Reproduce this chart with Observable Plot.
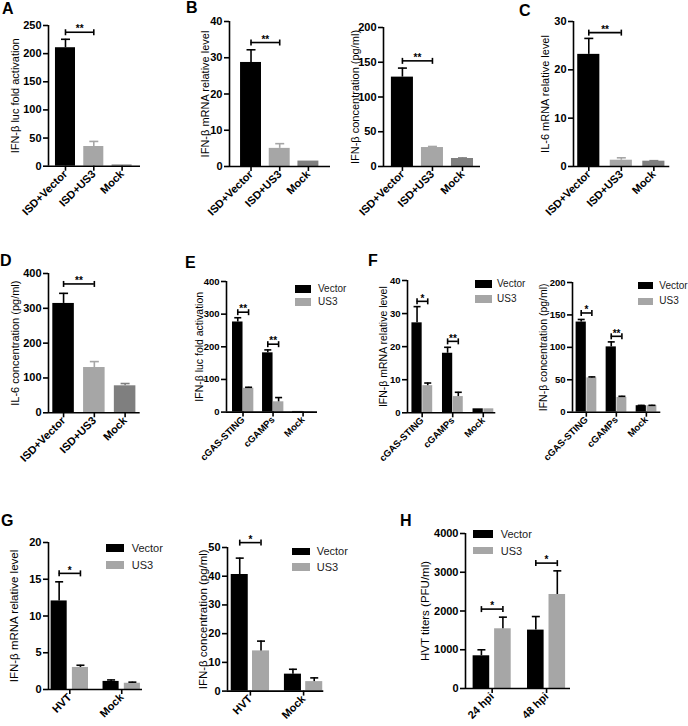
<!DOCTYPE html>
<html><head><meta charset="utf-8">
<script src="https://cdn.jsdelivr.net/npm/d3@7"></script>
<script src="https://cdn.jsdelivr.net/npm/@observablehq/plot@0.6"></script>
<style>
body{margin:0;background:#fff;font-family:"Liberation Sans",Arial,sans-serif;}
#fig{position:relative;width:688px;height:726px;overflow:hidden;background:#fff;}
.plbl{position:absolute;font-weight:bold;font-size:16px;line-height:16px;color:#000;}
.legrect{position:absolute;}
.legtxt{position:absolute;color:#222;white-space:nowrap;}
</style></head><body><div id="fig"></div>
<script>
// ---------- data ----------
const catsISD = ["ISD+Vector", "ISD+US3", "Mock"];
const catsCG = ["cGAS-STING", "cGAMPs", "Mock"];
const catsHVT = ["HVT", "Mock"];
const catsHpi = ["24 hpi", "48 hpi"];
const seriesNames = ["Vector", "US3"];

const aVal = [210.5, 35, 2.2];   const aSD = [15, 9, 0];
const bmVal = [28.7, 5.0, 1.5];  const bmSD = [3.5, 1.3, 0];
const bcVal = [128.6, 27.3, 11.5]; const bcSD = [13, 1.5, 0.8];
const cVal = [23.2, 1.3, 1.1];   const cSD = [3.3, 0.5, 0.1];
const dVal = [314, 130, 77.5];   const dSD = [29, 17, 6.5];

const eVec = [276, 181.5, 2];    const eVecSD = [13, 9, 0];
const eUS3 = [73, 31.5, 1];      const eUS3SD = [3, 13, 0];
const fmVec = [27.2, 18.0, 1.2]; const fmVecSD = [4.9, 1.8, 0];
const fmUS3 = [8.2, 4.9, 1.2];   const fmUS3SD = [0.8, 1.3, 0];
const fcVec = [139, 100.7, 10];  const fcVecSD = [4, 7.7, 0.5];
const fcUS3 = [52.9, 22.7, 10];  const fcUS3SD = [1.5, 1.8, 0.6];
const gmVec = [12.05, 1.1];      const gmVecSD = [2.6, 0.2];
const gmUS3 = [3.0, 0.85];       const gmUS3SD = [0.3, 0.15];
const gcVec = [40.6, 5.9];       const gcVecSD = [5.7, 1.7];
const gcUS3 = [14, 3.3];         const gcUS3SD = [3.4, 1.3];
const hVec = [844, 1507];        const hVecSD = [155, 350];
const hUS3 = [1541, 2426];       const hUS3SD = [300, 610];

const sigA = [{i: 0, y: 238, t: "**"}];
const sigBm = [{i: 0, y: 34.2, t: "**"}];
const sigBc = [{i: 0, y: 152, t: "**"}];
const sigC = [{i: 0, y: 27.7, t: "**"}];
const sigD = [{i: 0, y: 370, t: "**"}];
const sigE = [{i: 0, y: 306, t: "**"}, {i: 1, y: 208, t: "**"}];
const sigFm = [{i: 0, y: 33.7, t: "*"}, {i: 1, y: 21.6, t: "**"}];
const sigFc = [{i: 0, y: 153, t: "*"}, {i: 1, y: 117, t: "**"}];
const sigGm = [{i: 0, y: 15.8, t: "*"}];
const sigGc = [{i: 0, y: 51.7, t: "*"}];
const sigH = [{i: 0, y: 2049, t: "*"}, {i: 1, y: 3236, t: "*"}];

const ticks = (max, step) => d3.range(0, max + step / 2, step);

// ---------- styles ----------
const BLACK = "#000000", GREY = "#a6a6a6", DGREY = "#7f7f7f";
const FONT = "'Liberation Sans', Arial, sans-serif";
const fig = document.getElementById("fig");
const hline = w => ({draw(c) { c.moveTo(-w, 0); c.lineTo(w, 0); }});
const vline = h => ({draw(c) { c.moveTo(0, -h); c.lineTo(0, h); }});

function panel(cfg) {
  const ML = 60, MR = 12, MT = 20, MB = 75;
  const {box, cats, xDomain, yMax, yTicks, series, sig, ylabel, ylDx, fs} = cfg;
  const width = (box.x1 - box.x0) + ML + MR;
  const height = (box.y0 - box.yTop) + MT + MB;
  const rows = [];
  series.forEach(s => s.values.forEach((v, i) => {
    const col = s.colors ? s.colors[i] : s.color;
    rows.push({x1: i + s.off[0], x2: i + s.off[1], xc: i + (s.off[0] + s.off[1]) / 2,
      v, e: v + s.sd[i], fill: col, ec: s.errColor || col});
  }));
  const grouped = series.length > 1;
  const mid = s => (s.off[0] + s.off[1]) / 2;
  const brk = sig.map(d => grouped
    ? {a: d.i + mid(series[0]), b: d.i + mid(series[1]), y: d.y, t: d.t}
    : {a: d.i, b: d.i + 1, y: d.y, t: d.t});
  const ends = brk.flatMap(d => [{x: d.a, y: d.y}, {x: d.b, y: d.y}]);
  const errRows = rows.filter(r => r.e > r.v);
  const svg = Plot.plot({
    width, height, marginLeft: ML, marginRight: MR, marginTop: MT, marginBottom: MB,
    x: {type: "linear", domain: xDomain, axis: null},
    y: {domain: [0, yMax], axis: null},
    color: {type: "identity"},
    style: {background: "transparent", overflow: "visible", fontFamily: FONT, color: "#000"},
    marks: [
      Plot.rectY(rows, {x1: "x1", x2: "x2", y1: () => 0, y2: "v", fill: "fill"}),
      Plot.ruleX(errRows, {x: "xc", y1: "v", y2: "e", stroke: "ec", strokeWidth: 1.6}),
      Plot.dot(errRows, {x: "xc", y: "e", symbol: hline(cfg.cap), r: 3, fill: "none", stroke: "ec", strokeWidth: 1.6}),
      Plot.ruleY([0], {stroke: BLACK, strokeWidth: 1.6}),
      Plot.ruleX([xDomain[0]], {stroke: BLACK, strokeWidth: 1.6}),
      Plot.axisY({ticks: yTicks, tickSize: 5, tickPadding: 2, tickFormat: d => String(d), fontWeight: "bold", fontSize: fs.tick, strokeWidth: 1.6, label: null}),
      Plot.axisX({ticks: cats.map((_, i) => i), tickSize: 5, tickRotate: -45, tickPadding: cfg.tp ?? 1,
        tickFormat: i => cats[i], fontWeight: "bold", fontSize: fs.x, strokeWidth: 1.6, label: null}),
      Plot.ruleY(brk, {y: "y", x1: "a", x2: "b", stroke: BLACK, strokeWidth: 1.6}),
      Plot.dot(ends, {x: "x", y: "y", symbol: vline(3), r: 3, fill: "none", stroke: BLACK, strokeWidth: 1.6}),
      Plot.text(brk, {x: d => (d.a + d.b) / 2, y: "y", text: "t", dy: -3, fontSize: 10, fontWeight: "bold", lineAnchor: "middle"}),
      Plot.text([ylabel], {frameAnchor: "left", rotate: -90, dx: -ylDx, fontSize: fs.y, lineAnchor: "middle", textAnchor: "middle"})
    ]
  });
  svg.style.position = "absolute";
  svg.style.left = (box.x0 - ML) + "px";
  svg.style.top = (box.yTop - MT) + "px";
  svg.style.maxWidth = "none";
  fig.appendChild(svg);
}

function letter(t, x, y, size = 16) {
  const d = document.createElement("div");
  d.className = "plbl"; d.textContent = t;
  d.style.left = x + "px"; d.style.top = y + "px";
  d.style.fontSize = size + "px"; d.style.lineHeight = size + "px";
  fig.appendChild(d);
}
function legend(x, yV, yU, w, h, tx, fs) {
  [[yV, BLACK, seriesNames[0]], [yU, GREY, seriesNames[1]]].forEach(([y, c, name]) => {
    const r = document.createElement("div");
    r.className = "legrect";
    Object.assign(r.style, {left: x + "px", top: y + "px", width: w + "px", height: h + "px", background: c});
    fig.appendChild(r);
    const t = document.createElement("div");
    t.className = "legtxt"; t.textContent = name;
    Object.assign(t.style, {left: tx + "px", top: (y + h / 2 - 10) + "px", height: "20px", lineHeight: "20px", fontSize: fs + "px"});
    fig.appendChild(t);
  });
}

const big = {tick: 11, x: 11, y: 11};
const small = {tick: 9.5, x: 9.5, y: 10.5};
const mid3 = {tick: 11, x: 11, y: 11.5};
const singleCols = [BLACK, GREY, DGREY];

// A
panel({box: {x0: 48, x1: 140, yTop: 25, y0: 165.7}, cats: catsISD, xDomain: [-0.6, 2.65], yMax: 250, yTicks: ticks(250, 50),
  series: [{values: aVal, sd: aSD, colors: singleCols, off: [-0.354, 0.354]}], sig: sigA,
  ylabel: "IFN-β luc fold activation", ylDx: 33, fs: big, cap: 4.5});
// B left
panel({box: {x0: 229, x1: 330, yTop: 20.7, y0: 165.7}, cats: catsISD, xDomain: [-0.75, 2.77], yMax: 40, yTicks: ticks(40, 10),
  series: [{values: bmVal, sd: bmSD, colors: singleCols, off: [-0.365, 0.365]}], sig: sigBm,
  ylabel: "IFN-β mRNA relative level", ylDx: 24, fs: big, cap: 4.5});
// B right
panel({box: {x0: 383, x1: 480, yTop: 26.7, y0: 165.7}, cats: catsISD, xDomain: [-0.63, 2.6], yMax: 200, yTicks: ticks(200, 50),
  series: [{values: bcVal, sd: bcSD, colors: singleCols, off: [-0.367, 0.367]}], sig: sigBc,
  ylabel: "IFN-β concentration (pg/ml)", ylDx: 28, fs: big, cap: 4.5});
// C
panel({box: {x0: 572.7, x1: 669, yTop: 20.7, y0: 165.7}, cats: catsISD, xDomain: [-0.47, 2.49], yMax: 30, yTicks: ticks(30, 10),
  series: [{values: cVal, sd: cSD, colors: singleCols, off: [-0.34, 0.34]}], sig: sigC,
  ylabel: "IL-6 mRNA relative level", ylDx: 28, fs: big, cap: 4.5});
// D
panel({box: {x0: 48.3, x1: 140, yTop: 272.7, y0: 412}, cats: catsISD, xDomain: [-0.49, 2.49], yMax: 400, yTicks: ticks(400, 100),
  series: [{values: dVal, sd: dSD, colors: singleCols, off: [-0.35, 0.35]}], sig: sigD,
  ylabel: "IL-6 concentration (pg/ml)", ylDx: 33, fs: big, cap: 4.5});
// E
panel({box: {x0: 226, x1: 317, yTop: 280.7, y0: 411.3}, cats: catsCG, xDomain: [-0.55, 2.48], yMax: 400, yTicks: ticks(400, 100),
  series: [{values: eVec, sd: eVecSD, color: BLACK, off: [-0.35, 0]}, {values: eUS3, sd: eUS3SD, color: GREY, errColor: BLACK, off: [0.01, 0.36]}],
  sig: sigE, ylabel: "IFN-β luc fold activation", ylDx: 27, fs: small, cap: 3.5});
// F left
panel({box: {x0: 406.7, x1: 495, yTop: 280, y0: 412.3}, cats: catsCG, xDomain: [-0.48, 2.41], yMax: 40, yTicks: ticks(40, 10),
  series: [{values: fmVec, sd: fmVecSD, color: BLACK, off: [-0.335, 0]}, {values: fmUS3, sd: fmUS3SD, color: GREY, errColor: BLACK, off: [0.02, 0.345]}],
  sig: sigFm, ylabel: "IFN-β mRNA relative level", ylDx: 24, fs: small, cap: 3.5});
// F right
panel({box: {x0: 571.7, x1: 660, yTop: 282.3, y0: 412}, cats: catsCG, xDomain: [-0.46, 2.48], yMax: 200, yTicks: ticks(200, 50),
  series: [{values: fcVec, sd: fcVecSD, color: BLACK, off: [-0.34, 0]}, {values: fcUS3, sd: fcUS3SD, color: GREY, errColor: BLACK, off: [0.02, 0.35]}],
  sig: sigFc, ylabel: "IFN-β concentration (pg/ml)", ylDx: 29, fs: small, cap: 3.5});
// G left
panel({box: {x0: 47.7, x1: 141.7, yTop: 542.3, y0: 689.3}, cats: catsHVT, xDomain: [-0.41, 1.4], yMax: 20, yTicks: ticks(20, 5),
  series: [{values: gmVec, sd: gmVecSD, color: BLACK, off: [-0.36, -0.05]}, {values: gmUS3, sd: gmUS3SD, color: GREY, errColor: BLACK, off: [0.05, 0.36]}],
  sig: sigGm, ylabel: "IFN-β mRNA relative level", ylDx: 34, fs: mid3, cap: 4});
// G right
panel({box: {x0: 227, x1: 323.3, yTop: 546.7, y0: 690.3}, cats: catsHVT, xDomain: [-0.43, 1.38], yMax: 50, yTicks: ticks(50, 10),
  series: [{values: gcVec, sd: gcVecSD, color: BLACK, off: [-0.36, -0.04]}, {values: gcUS3, sd: gcUS3SD, color: GREY, errColor: BLACK, off: [0.04, 0.36]}],
  sig: sigGc, ylabel: "IFN-β concentration (pg/ml)", ylDx: 24, fs: mid3, cap: 4});
// H
panel({box: {x0: 465, x1: 570, yTop: 532.7, y0: 687.7}, cats: catsHpi, xDomain: [-0.49, 1.44], yMax: 4000, yTicks: ticks(4000, 1000),
  series: [{values: hVec, sd: hVecSD, color: BLACK, off: [-0.35, -0.045]}, {values: hUS3, sd: hUS3SD, color: GREY, errColor: BLACK, off: [0.045, 0.35]}],
  sig: sigH, ylabel: "HVT titers (PFU/ml)", ylDx: 40, fs: mid3, cap: 4});

legend(295, 285, 298.3, 16, 7.5, 318, 10);
legend(475, 280, 295, 17, 7.5, 497, 10);
legend(637.7, 282.3, 297.7, 15.6, 7, 659.3, 10);
legend(106, 544.3, 561, 18, 7.5, 131.7, 11);
legend(291.7, 547.7, 563.3, 18, 7.3, 316.7, 11);
legend(473.3, 530, 546.7, 19.4, 7.7, 500.7, 11);

letter("A", 2, 1);
letter("B", 186, 0);
letter("C", 519, 3);
letter("D", 0, 253);
letter("E", 185, 255);
letter("F", 368, 253);
letter("G", 1, 513);
letter("H", 400, 513);
</script></body></html>
